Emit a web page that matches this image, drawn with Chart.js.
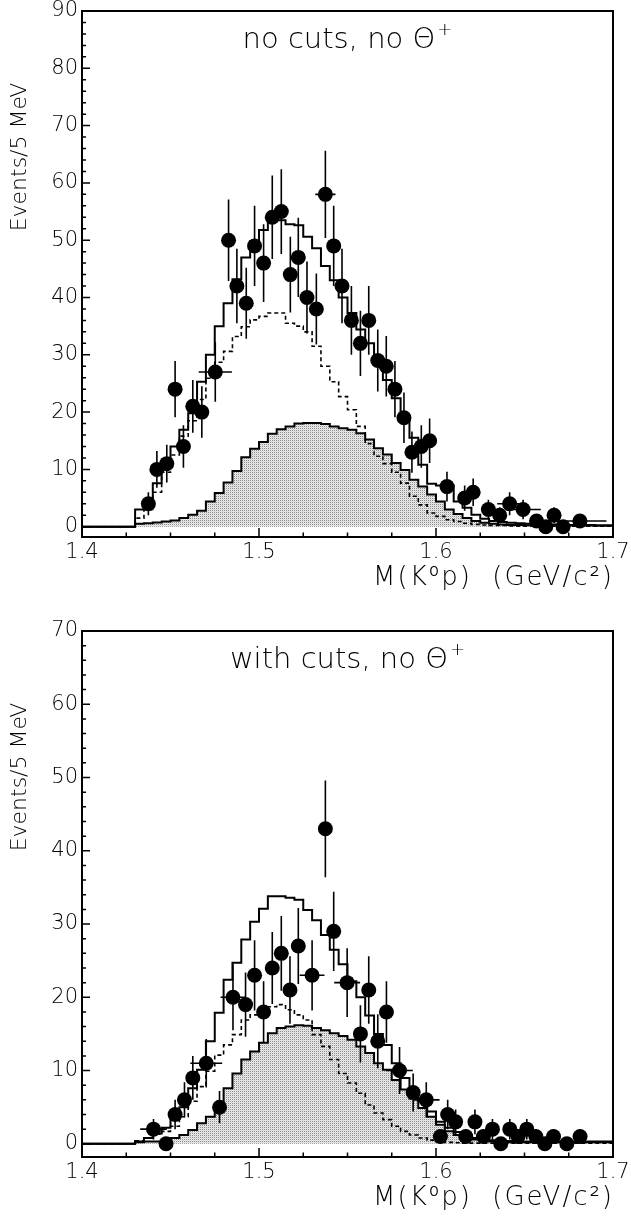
<!DOCTYPE html>
<html><head><meta charset="utf-8">
<script src="https://cdn.jsdelivr.net/npm/chart.js@4.4.1/dist/chart.umd.min.js"></script>
<style>
html,body{margin:0;padding:0;background:#fff;width:631px;height:1222px;overflow:hidden}
.wrap{position:absolute;left:0;width:631px;height:611px}
#w1{top:0}#w2{top:611px}
canvas{display:block}
</style></head><body>
<div class="wrap" id="w1"><canvas id="c1" width="631" height="611"></canvas></div>
<div class="wrap" id="w2"><canvas id="c2" width="631" height="611"></canvas></div>
<script>
// ---------- data ----------
const binStart = 1.400, binWidth = 0.005;   // histogram bins (5 MeV)
const xTickValues = [1.4, 1.5, 1.6, 1.7];
const yTicksTop = [0,10,20,30,40,50,60,70,80,90];
const yTicksBot = [0,10,20,30,40,50,60,70];
const titleTop = 'no cuts, no Θ';
const titleBot = 'with cuts, no Θ';
const titleSup = '+';
const xTitle = 'M(K⁰p)  (GeV/c²)';
const yTitle = 'Events/5 MeV';

// top panel: data points
const massTop = [1.4375,1.4423,1.4479,1.4526,1.4573,1.4626,1.4677,1.4753,1.4828,1.4875,1.4928,1.4975,1.5026,1.5075,1.5126,1.5177,1.5222,1.5271,1.5324,1.5375,1.5422,1.5469,1.5522,1.5573,1.5620,1.5671,1.5719,1.5768,1.5819,1.5864,1.5917,1.5964,1.6062,1.6162,1.6210,1.6296,1.6360,1.6416,1.6492,1.6568,1.6620,1.6667,1.6718,1.6813];
const countsTop = [4,10,11,24,14,21,20,27,50,42,39,49,46,54,55,44,47,40,38,58,49,42,36,32,36,29,28,24,19,13,14,15,7,5,6,3,2,4,3,1,0,2,0,1];
const errTop = [2,3.2,3.3,4.9,3.7,4.6,4.5,5.2,7.1,6.5,6.2,7,6.8,7.3,7.4,6.6,6.9,6.3,6.2,7.6,7,6.5,6,5.7,6,5.4,5.3,4.9,4.4,3.6,3.7,3.9,2.6,2.2,2.4,1.7,1.4,2,1.7,1,0,1.4,0,1];
const xErrTop = [0,0,0,0,0,0,0,0.0094,0,0,0,0,0,0,0,0,0,0,0,0.0057,0,0,0,0,0,0,0,0,0,0,0,0,0,0,0,0,0,0.007,0.010,0,0,0,0,0.015];
// top panel: histograms, one value per 5 MeV bin from 1.400 to 1.700
const totalTop = [0,0,0,0,0,0,0,3.0,4.4,7.6,10.5,14.0,16.9,19.8,25.3,30.0,35.0,39.0,43.2,47.0,49.8,51.8,53.5,53.5,52.8,52.6,50.6,48.6,45.5,43.0,40.0,37.3,34.4,32.0,28.8,25.6,22.4,18.7,15.5,10.8,7.5,7.2,7.2,4.4,3.3,2.1,1.4,1.0,0.8,0.7,0.6,0.5,0.5,0.4,0.4,0.3,0.3,0.3,0.3,0.2];
const dashedTop = [0,0,0,0,0,0,0,1.5,3.0,6.0,9.5,12.5,15.8,18.5,22.2,25.9,28.7,30.6,33.2,34.9,36.1,36.7,37.3,37.3,35.5,35.0,34.0,31.5,28.0,25.3,22.7,20.4,17.5,14.5,12.3,11.0,9.5,7.6,5.3,3.8,2.4,1.8,1.2,0.9,0.6,0.4,0.3,0.2,0.2,0.15,0.1,0.1,0.1,0.1,0.1,0.1,0.1,0.1,0.1,0.1];
const shadedTop = [0,0,0,0,0,0,0,0.5,0.6,0.75,0.9,1.1,1.5,2.1,2.8,4.4,5.9,7.7,9.7,12.1,13.6,14.8,16.2,17.0,17.5,18.0,18.1,18.1,17.9,17.5,17.2,16.9,16.3,15.2,13.7,12.6,11.1,9.9,8.2,7.0,5.6,4.4,3.0,2.2,1.5,1.0,0.7,0.5,0.4,0.3,0.3,0.25,0.25,0.2,0.2,0.2,0.2,0.2,0.2,0.2];

// bottom panel: data points
const massBot = [1.4404,1.4475,1.4526,1.4579,1.4626,1.4702,1.4777,1.4853,1.4924,1.4975,1.5026,1.5075,1.5126,1.5175,1.5222,1.5300,1.5375,1.5422,1.5498,1.5573,1.5620,1.5671,1.5720,1.5794,1.5871,1.5945,1.6025,1.6066,1.6111,1.6168,1.6220,1.6268,1.6319,1.6366,1.6417,1.6464,1.6513,1.6564,1.6615,1.6664,1.6739,1.6814];
const countsBot = [2,0,4,6,9,11,5,20,19,23,18,24,26,21,27,23,43,29,22,15,21,14,18,10,7,6,1,4,3,1,3,1,2,0,2,1,2,1,0,1,0,1];
const errBot = [1.4,0,2,2.4,3,3.3,2.2,4.5,4.4,4.8,4.2,4.9,5.1,4.6,5.2,4.8,6.6,5.4,4.7,3.9,4.6,3.7,4.2,3.2,2.6,2.4,1,2,1.7,1,1.7,1,1.4,0,1.4,1,1.4,1,0,1,0,1];
const xErrBot = [0.0075,0,0,0,0,0.009,0,0.007,0,0,0,0,0,0,0,0.007,0,0,0.0073,0,0,0,0,0.0075,0,0.0075,0,0,0,0,0,0,0,0,0,0,0,0,0,0,0,0];
const totalBot = [0,0,0,0,0,0,0,0.3,0.8,1.4,2.2,3.4,5.0,7.6,10.1,14.0,17.9,22.4,24.7,27.9,30.3,32.1,33.8,33.8,33.6,33.3,31.9,30.5,28.5,26.5,24.5,22.2,20.0,17.5,15.0,13.5,11.0,9.0,7.2,5.8,4.4,3.0,2.2,1.6,1.1,0.8,0.6,0.5,0.4,0.4,0.3,0.3,0.3,0.3,0.3,0.3,0.3,0.3,0.3,0.3];
const dashedBot = [0,0,0,0,0,0,0,0.4,0.8,1.3,1.7,2.4,3.7,5.8,7.8,9.9,12.1,13.5,14.9,16.9,17.6,18.5,18.7,19.0,18.3,17.6,16.9,14.9,13.3,11.5,9.6,8.3,6.9,5.3,4.2,3.3,2.4,1.7,1.2,0.8,0.5,0.3,0.2,0.15,0.1,0.1,0.1,0.1,0.1,0.1,0.1,0.1,0.1,0.1,0.1,0.1,0.1,0.1,0.1,0.1];
const shadedBot = [0,0,0,0,0,0,0,0.2,0.3,0.3,0.35,0.8,1.2,1.9,2.8,3.7,5.3,7.6,9.6,11.5,12.6,13.8,15.1,15.8,16.0,16.2,16.1,15.8,15.5,15.1,14.7,14.2,13.3,12.4,11.0,10.1,8.7,7.4,6.2,4.9,3.7,2.6,1.7,1.2,0.8,0.6,0.4,0.3,0.25,0.2,0.2,0.2,0.2,0.2,0.2,0.2,0.2,0.2,0.2,0.2];

// ---------- drawing ----------
const FAM = "'DejaVu Sans', 'Liberation Sans', sans-serif";
const tickFont = { family: FAM, size: 21, weight: '200' };

function histPoints(vals) {
  const pts = vals.map((v, i) => ({ x: binStart + i * binWidth, y: v }));
  pts.push({ x: binStart + vals.length * binWidth, y: vals[vals.length - 1] });
  return pts;
}

function dotPattern() {
  const c = document.createElement('canvas'); c.width = 2; c.height = 2;
  const g = c.getContext('2d');
  g.fillStyle = '#ececec'; g.fillRect(0, 0, 2, 2);
  g.fillStyle = '#8a8a8a'; g.fillRect(0, 0, 1, 1);
  g.fillStyle = '#d6d6d6'; g.fillRect(1, 1, 1, 1);
  return g.createPattern(c, 'repeat');
}

function makeDecor(c) {
  return {
    id: 'decor',
    afterDatasetsDraw(chart) {
      const ctx = chart.ctx, xs = chart.scales.x, ys = chart.scales.y;
      ctx.save();
      ctx.strokeStyle = '#000'; ctx.lineWidth = 1.6;
      ctx.beginPath();
      c.mass.forEach((m, i) => {
        const v = c.counts[i], e = c.err[i], h = c.xErr[i];
        const px = xs.getPixelForValue(m), py = ys.getPixelForValue(v);
        if (e > 0) { ctx.moveTo(px, ys.getPixelForValue(v - e)); ctx.lineTo(px, ys.getPixelForValue(v + e)); }
        if (h > 0) { ctx.moveTo(xs.getPixelForValue(m - h), py); ctx.lineTo(xs.getPixelForValue(m + h), py); }
      });
      ctx.stroke();
      ctx.restore();
    },
    afterDraw(chart) {
      const ctx = chart.ctx, a = chart.chartArea, xs = chart.scales.x, ys = chart.scales.y;
      ctx.save();
      ctx.strokeStyle = '#000';
      ctx.lineWidth = 2;
      ctx.strokeRect(a.left, a.top, a.right - a.left, a.bottom - a.top);
      ctx.lineWidth = 1.5;
      ctx.beginPath();
      for (let v = 0; v <= c.yMax; v += 2) {
        const py = ys.getPixelForValue(v);
        const len = (v % 10 === 0) ? 8 : 4;
        ctx.moveTo(a.left, py); ctx.lineTo(a.left + len, py);
      }
      for (let k = 0; k <= 12; k++) {
        const px = xs.getPixelForValue(1.4 + k * 0.025);
        const len = (k % 4 === 0) ? 9 : 4.5;
        ctx.moveTo(px, a.bottom); ctx.lineTo(px, a.bottom - len);
      }
      ctx.stroke();

      ctx.fillStyle = '#000';
      ctx.textBaseline = 'middle';
      // panel title with superscript
      const tf = "200 29px " + FAM, sf = "200 18px " + FAM;
      ctx.font = tf; const w1 = ctx.measureText(c.title).width;
      ctx.font = sf; const w2 = ctx.measureText(titleSup).width;
      const x0 = (a.left + a.right) / 2 - (w1 + w2 + 2) / 2;
      ctx.textAlign = 'left';
      ctx.font = tf; ctx.fillText(c.title, x0, a.top + 29);
      ctx.font = sf; ctx.fillText(titleSup, x0 + w1 + 2, a.top + 19);
      // x title
      ctx.save();
      ctx.font = "200 26px " + FAM;
      if ('letterSpacing' in ctx) ctx.letterSpacing = '2px';
      ctx.textAlign = 'right';
      ctx.fillText(xTitle, a.right + 1, a.bottom + 41);
      ctx.restore();
      // y title
      ctx.font = "200 22px " + FAM;
      ctx.save();
      ctx.translate(20, a.top + 146);
      ctx.rotate(-Math.PI / 2);
      ctx.textAlign = 'center';
      ctx.fillText(yTitle, 0, 0);
      ctx.restore();
      ctx.restore();
    }
  };
}

function makeChart(id, c) {
  const pat = dotPattern();
  return new Chart(document.getElementById(id), {
    type: 'scatter',
    data: {
      datasets: [
        { type: 'scatter', data: c.mass.map((m, i) => ({ x: m, y: c.counts[i] })),
          pointRadius: 7.5, pointHoverRadius: 7.5, backgroundColor: '#000', borderColor: '#000', borderWidth: 0, order: 0 },
        { type: 'line', data: histPoints(c.total), stepped: 'after', borderColor: '#000', borderWidth: 2,
          pointRadius: 0, fill: false, order: 1 },
        { type: 'line', data: histPoints(c.dashed), stepped: 'after', borderColor: '#000', borderWidth: 1.6,
          borderDash: [4, 3], pointRadius: 0, fill: false, order: 2 },
        { type: 'line', data: histPoints(c.shaded), stepped: 'after', borderColor: '#000', borderWidth: 2,
          pointRadius: 0, fill: 'origin', backgroundColor: pat, order: 3 }
      ]
    },
    options: {
      responsive: false, animation: false, devicePixelRatio: 1, events: [],
      layout: { padding: { top: c.padTop, right: 18, left: 0, bottom: 0 } },
      plugins: { legend: { display: false }, tooltip: { enabled: false } },
      scales: {
        x: {
          type: 'linear', min: 1.4, max: 1.7,
          grid: { display: false, drawTicks: false }, border: { display: false },
          afterBuildTicks: s => { s.ticks = xTickValues.map(v => ({ value: v })); },
          afterFit: s => { s.height = c.xHeight; s.paddingLeft = 0; s.paddingRight = 0; },
          ticks: { autoSkip: false, maxRotation: 0, minRotation: 0, padding: 3, color: '#000', font: tickFont,
                   callback: v => Number(v).toFixed(1) }
        },
        y: {
          type: 'linear', min: c.yMin, max: c.yMax,
          grid: { display: false, drawTicks: false }, border: { display: false },
          afterBuildTicks: s => { s.ticks = c.yTicks.map(v => ({ value: v })); },
          afterFit: s => { s.width = 82; s.paddingTop = 0; s.paddingBottom = 0; },
          ticks: { autoSkip: false, padding: 4, color: '#000', font: tickFont, callback: v => String(v) }
        }
      }
    },
    plugins: [makeDecor(c)]
  });
}

makeChart('c1', { mass: massTop, counts: countsTop, err: errTop, xErr: xErrTop,
  total: totalTop, dashed: dashedTop, shaded: shadedTop,
  yMin: -1.8, yMax: 90, yTicks: yTicksTop, title: titleTop, padTop: 11, xHeight: 74 });
makeChart('c2', { mass: massBot, counts: countsBot, err: errBot, xErr: xErrBot,
  total: totalBot, dashed: dashedBot, shaded: shadedBot,
  yMin: -1.8, yMax: 70, yTicks: yTicksBot, title: titleBot, padTop: 20, xHeight: 65 });
</script>
</body></html>
